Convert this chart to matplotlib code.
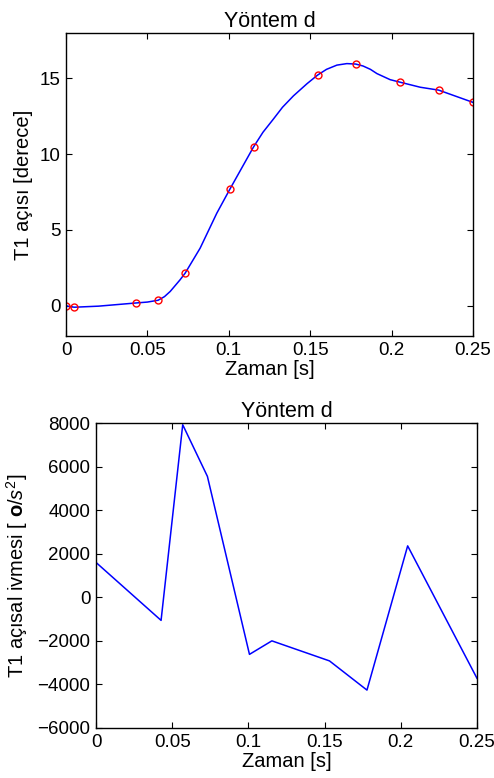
import matplotlib
matplotlib.use("Agg")
import matplotlib.pyplot as plt

plt.rcParams['font.family'] = ['Liberation Sans', 'DejaVu Sans']
plt.rcParams['mathtext.fontset'] = 'custom'
plt.rcParams['mathtext.rm'] = 'Liberation Sans'
plt.rcParams['mathtext.it'] = 'Liberation Sans:italic'
plt.rcParams['mathtext.bf'] = 'Liberation Sans:bold'

# measured points (red circles)
t_pts = [0.0, 0.0052, 0.043, 0.0566, 0.0732, 0.1006, 0.1152, 0.1545, 0.1780, 0.2053, 0.2289, 0.25]
ang_pts = [0.0, -0.1, 0.18, 0.36, 2.15, 7.68, 10.48, 15.22, 15.95, 14.75, 14.23, 13.42]

# blue curve
t_curve = [0.0, 0.0026, 0.0052, 0.02, 0.043, 0.050, 0.0566, 0.0605, 0.0640, 0.0700, 0.0732,
           0.0824, 0.0926, 0.1006, 0.108, 0.1152, 0.121, 0.1274, 0.133, 0.1397, 0.148,
           0.1545, 0.160, 0.1664, 0.1725, 0.1780, 0.1825, 0.187, 0.1910, 0.1991, 0.2053, 0.2176,
           0.2289, 0.2401, 0.25]
ang_curve = [0.0, -0.07, -0.1, -0.03, 0.18, 0.24, 0.36, 0.6, 0.94, 1.7, 2.15,
             3.8, 6.1, 7.68, 9.1, 10.48, 11.45, 12.32, 13.1, 13.85, 14.65,
             15.22, 15.6, 15.88, 15.98, 15.95, 15.82, 15.6, 15.32, 14.92, 14.75, 14.42,
             14.23, 13.8, 13.42]

# angular acceleration
t_acc = [0.0, 0.0427, 0.0569, 0.0731, 0.1007, 0.1154, 0.1532, 0.1778, 0.2045, 0.25]
acc = [1600, -1060, 7920, 5550, -2620, -2000, -2920, -4260, 2360, -3720]

xticks = [0, 0.05, 0.1, 0.15, 0.2, 0.25]
xticklabels = ['0', '0.05', '0.1', '0.15', '0.2', '0.25']

fig = plt.figure(figsize=(4.94, 7.78), dpi=100)
ax1 = fig.add_axes([66/494, 1-336/778, 407/494, 303/778])
ax2 = fig.add_axes([96/494, 1-728/778, 381/494, 305/778])

fs_tick = 13.5
fs_lab = 14.5
fs_title = 15.5
ax1.plot(t_curve, ang_curve, color='#0000ff', lw=1.1)
ax1.plot(t_pts, ang_pts, 'o', mfc='none', mec='#ff0000', ms=5, mew=1.0)
ax1.set_xlim(0, 0.25)
ax1.set_ylim(-2, 18)
ax1.set_yticks([0, 5, 10, 15])
ax1.set_title('Yöntem d', fontsize=fs_title, pad=4)
ax1.set_xlabel('Zaman [s]', fontsize=fs_lab, labelpad=1)
ax1.set_ylabel('T1 açısı [derece]', fontsize=fs_lab)

ax2.plot(t_acc, acc, color='#0000ff', lw=1.1)
ax2.set_xlim(0, 0.25)
ax2.set_ylim(-6000, 8000)
ax2.set_yticks(list(range(-6000, 8001, 2000)))
ax2.set_title('Yöntem d', fontsize=fs_title, pad=4)
ax2.set_xlabel('Zaman [s]', fontsize=fs_lab, labelpad=1)
ax2.set_ylabel('T1 açısal ivmesi [ $\\mathbf{o}$$\\mathit{/s}^{2}$]', fontsize=fs_lab)

for ax in (ax1, ax2):
    ax.set_xticks(xticks)
    ax.set_xticklabels(xticklabels)
    ax.tick_params(direction='in', top=True, right=True, labelsize=fs_tick, length=4, width=0.8, pad=4)
    for s in ax.spines.values():
        s.set_linewidth(1.0)

ax1.yaxis.set_label_coords(-0.081, 0.5)
ax2.yaxis.set_label_coords(-0.172, 0.5)

fig.savefig('out.png', dpi=100)
